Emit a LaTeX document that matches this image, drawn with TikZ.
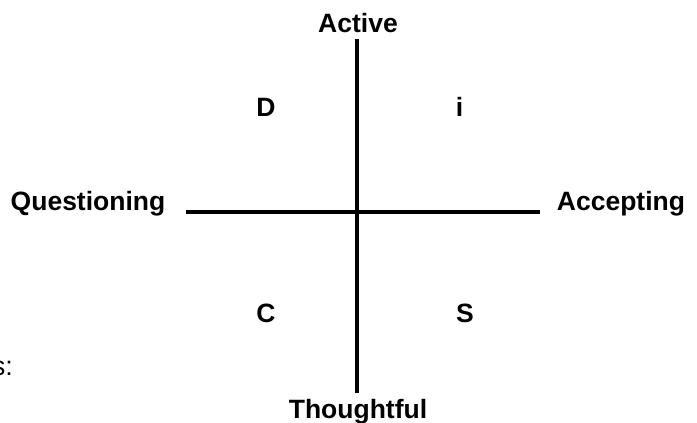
\documentclass[tikz,border=0pt]{standalone}
\usepackage{fontspec}
\setmainfont{Liberation Sans}
\usepackage{tikz}
\usetikzlibrary{positioning}

\tikzset{
  axisline/.style={line width=3.3pt, black},
  polelabel/.style={font=\bfseries\fontsize{26.5}{31}\selectfont, inner sep=0pt, anchor=base},
  quadlabel/.style={font=\bfseries\fontsize{26.5}{31}\selectfont, inner sep=0pt, anchor=base},
}

\begin{document}
\begin{tikzpicture}[x=1pt, y=-1pt]
  \useasboundingbox (0,0) rectangle (697,423);

  % Axis end points
  \coordinate (top) at (357, 39);
  \coordinate (bottom) at (357, 393);
  \coordinate (left) at (186, 212);
  \coordinate (right) at (540, 212);

  % Axes
  \draw[axisline] (left) -- (right);
  \draw[axisline] (top) -- (bottom);

  % Pole labels
  \node[polelabel] (active) at (358, 32) {Active};
  \node[polelabel] (thoughtful) at (358, 418) {Thoughtful};
  \node[polelabel] (questioning) at (88, 210) {Questioning};
  \node[polelabel] (accepting) at (621, 210) {Accepting};

  % Quadrant letters
  \node[quadlabel] (dq) at (266, 116) {D};
  \node[quadlabel] (iq) at (459.5, 116) {i};
  \node[quadlabel] (cq) at (266, 322) {C};
  \node[quadlabel] (sq) at (465, 322) {S};

  % Cut-off text at the left edge
  \node[font=\fontsize{27}{32}\selectfont, inner sep=0pt, anchor=base east] (cut) at (13, 375) {s:};
\end{tikzpicture}
\end{document}
